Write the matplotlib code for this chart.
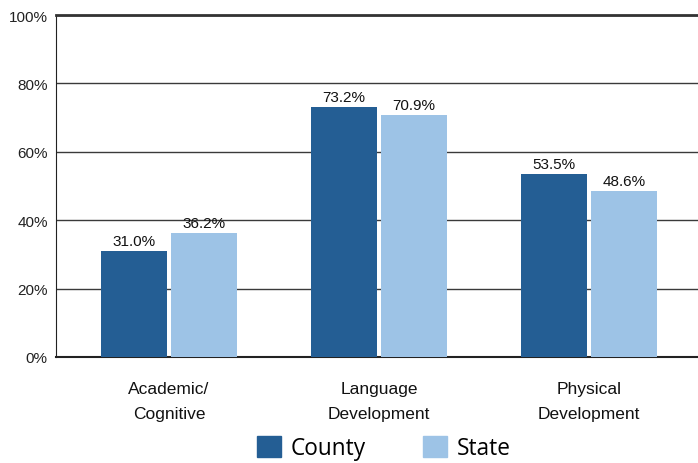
import matplotlib
matplotlib.use("Agg")
import matplotlib.pyplot as plt
from matplotlib.patches import Patch

categories = ["Academic/\nCognitive", "Language\nDevelopment", "Physical\nDevelopment"]
county = [31.0, 73.2, 53.5]
state = [36.2, 70.9, 48.6]
yticks = [0, 20, 40, 60, 80, 100]
c_county = "#245e94"
c_state = "#9dc3e6"

fig = plt.figure(figsize=(6.98, 4.64), dpi=100)
ax = fig.add_axes([56/698, 106/464, 642/698, 342/464])
ax.set_axisbelow(True)
x = list(range(len(categories)))
w = 0.314
off = 0.167
b1 = ax.bar([i - off for i in x], county, w, color=c_county, zorder=3)
b2 = ax.bar([i + off for i in x], state, w, color=c_state, zorder=3)
for bars, vals in ((b1, county), (b2, state)):
    for r, v in zip(bars, vals):
        ax.text(r.get_x() + r.get_width()/2, v + 0.8, f"{v:.1f}%", ha="center", va="bottom",
                fontsize=11, family="Liberation Sans", color="#111111", zorder=4)
ax.set_xlim(-0.538, 2.519)
ax.set_ylim(0, 100)
ax.set_yticks(yticks)
ax.set_yticklabels([f"{t}%" for t in yticks], fontsize=11, family="Liberation Sans", color="#222222")
ax.set_xticks(x)
ax.set_xticklabels(categories, fontsize=12.5, family="Liberation Sans", color="#111111", linespacing=1.85)
ax.tick_params(axis="both", length=0)
ax.tick_params(axis="x", pad=17)
ax.tick_params(axis="y", pad=6)
ax.grid(axis="y", color="#3a3a3a", linewidth=1.0, zorder=0)
ax.spines["right"].set_visible(False)
ax.spines["top"].set_linewidth(2.0)
ax.spines["top"].set_color("#333333")
ax.spines["left"].set_color("#222222")
ax.spines["bottom"].set_color("#222222")
ax.spines["bottom"].set_linewidth(1.5)

handles = [Patch(color=c_county, label="County"), Patch(color=c_state, label="State")]
fig.legend(handles=handles, loc="lower center", bbox_to_anchor=(0.55, -0.018), ncol=2, frameon=False,
           prop={"family": "Open Sans", "size": 16.3}, handlelength=1.05, handleheight=1.05,
           columnspacing=2.5, handletextpad=0.45, borderpad=0.0)
fig.savefig("out.png", dpi=100)
